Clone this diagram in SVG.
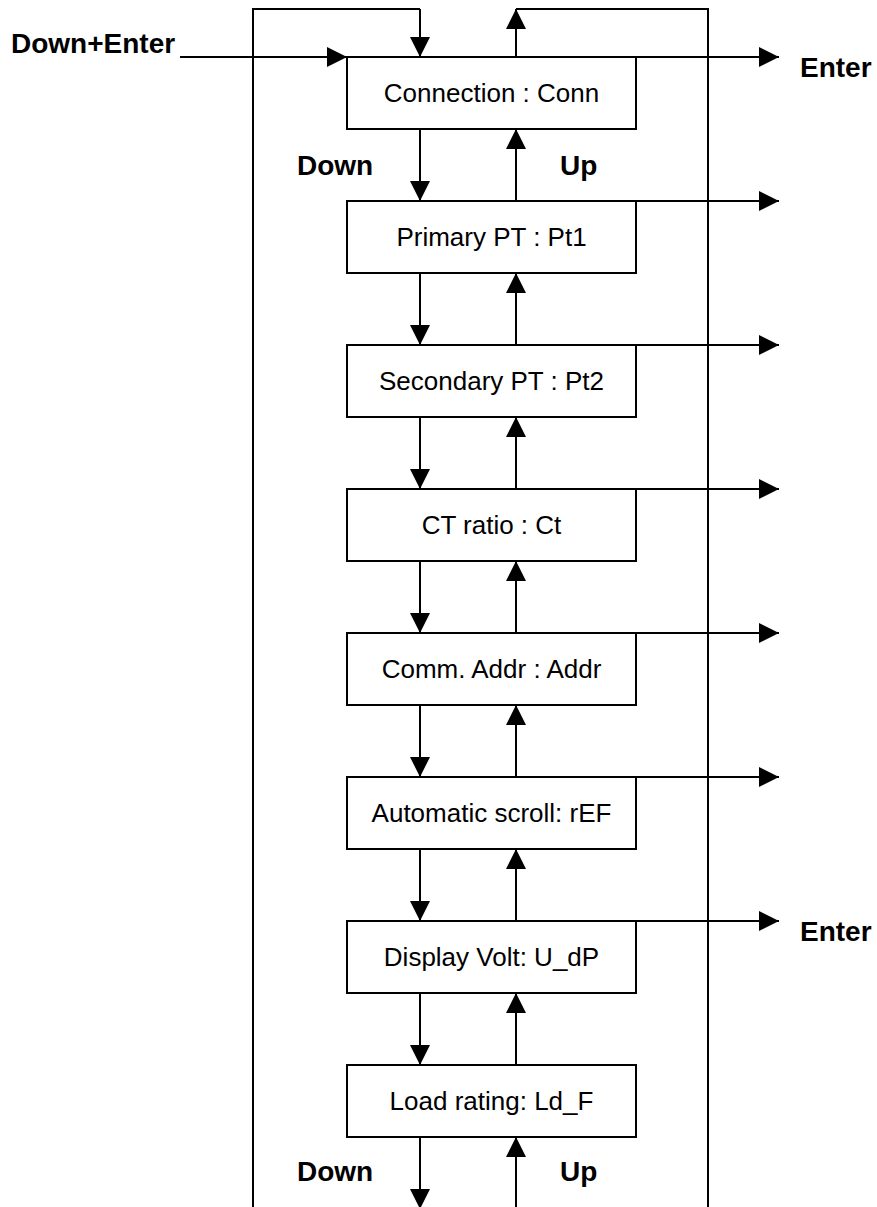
<svg xmlns="http://www.w3.org/2000/svg" width="877" height="1207" viewBox="0 0 877 1207">
<defs>
<marker id="ah" markerUnits="userSpaceOnUse" markerWidth="20" markerHeight="20" refX="20" refY="10" orient="auto" overflow="visible">
<path d="M0,0 L20,10 L0,20 z" fill="#000"/>
</marker>
</defs>
<style>
.box{fill:#fff;stroke:#000;stroke-width:2}
.ln{fill:none;stroke:#000;stroke-width:2}
.ar{fill:none;stroke:#000;stroke-width:2;marker-end:url(#ah)}
.t{font-family:"Liberation Sans",Arial,sans-serif;font-size:26px;fill:#000;text-anchor:middle}
.lb{font-family:"Liberation Sans",Arial,sans-serif;font-size:28px;font-weight:bold;fill:#000}
</style>
<rect width="877" height="1207" fill="#fff"/>
<g id="connectors">
<polyline class="ln" points="253,1207 253,9 420,9"/>
<line class="ar" x1="420" y1="9" x2="420" y2="57"/>
<polyline class="ln" points="708,1207 708,9 516,9"/>
<line class="ar" x1="516" y1="57" x2="516" y2="9"/>
<line class="ar" x1="180" y1="57" x2="347" y2="57"/>
<line class="ar" x1="636" y1="57" x2="779" y2="57"/>
<line class="ar" x1="636" y1="201" x2="779" y2="201"/>
<line class="ar" x1="636" y1="345" x2="779" y2="345"/>
<line class="ar" x1="636" y1="489" x2="779" y2="489"/>
<line class="ar" x1="636" y1="633" x2="779" y2="633"/>
<line class="ar" x1="636" y1="777" x2="779" y2="777"/>
<line class="ar" x1="636" y1="921" x2="779" y2="921"/>
<line class="ar" x1="420" y1="129" x2="420" y2="201"/>
<line class="ar" x1="516" y1="201" x2="516" y2="129"/>
<line class="ar" x1="420" y1="273" x2="420" y2="345"/>
<line class="ar" x1="516" y1="345" x2="516" y2="273"/>
<line class="ar" x1="420" y1="417" x2="420" y2="489"/>
<line class="ar" x1="516" y1="489" x2="516" y2="417"/>
<line class="ar" x1="420" y1="561" x2="420" y2="633"/>
<line class="ar" x1="516" y1="633" x2="516" y2="561"/>
<line class="ar" x1="420" y1="705" x2="420" y2="777"/>
<line class="ar" x1="516" y1="777" x2="516" y2="705"/>
<line class="ar" x1="420" y1="849" x2="420" y2="921"/>
<line class="ar" x1="516" y1="921" x2="516" y2="849"/>
<line class="ar" x1="420" y1="993" x2="420" y2="1065"/>
<line class="ar" x1="516" y1="1065" x2="516" y2="993"/>
<line class="ar" x1="420" y1="1137" x2="420" y2="1209"/>
<line class="ar" x1="516" y1="1209" x2="516" y2="1137"/>
</g>
<g id="labels">
<text class="lb" x="11" y="53">Down+Enter</text>
<text class="lb" x="800" y="77">Enter</text>
<text class="lb" x="800" y="941">Enter</text>
<text class="lb" x="297" y="175">Down</text>
<text class="lb" x="560" y="175">Up</text>
<text class="lb" x="297" y="1181">Down</text>
<text class="lb" x="560" y="1181">Up</text>
</g>
<g id="n1"><rect class="box" x="347" y="57" width="289" height="72"/><text class="t" x="491.5" y="102">Connection : Conn</text></g>
<g id="n2"><rect class="box" x="347" y="201" width="289" height="72"/><text class="t" x="491.5" y="246">Primary PT : Pt1</text></g>
<g id="n3"><rect class="box" x="347" y="345" width="289" height="72"/><text class="t" x="491.5" y="390">Secondary PT : Pt2</text></g>
<g id="n4"><rect class="box" x="347" y="489" width="289" height="72"/><text class="t" x="491.5" y="534">CT ratio : Ct</text></g>
<g id="n5"><rect class="box" x="347" y="633" width="289" height="72"/><text class="t" x="491.5" y="678">Comm. Addr : Addr</text></g>
<g id="n6"><rect class="box" x="347" y="777" width="289" height="72"/><text class="t" x="491.5" y="822">Automatic scroll: rEF</text></g>
<g id="n7"><rect class="box" x="347" y="921" width="289" height="72"/><text class="t" x="491.5" y="966">Display Volt: U_dP</text></g>
<g id="n8"><rect class="box" x="347" y="1065" width="289" height="72"/><text class="t" x="491.5" y="1110">Load rating: Ld_F</text></g>
</svg>
